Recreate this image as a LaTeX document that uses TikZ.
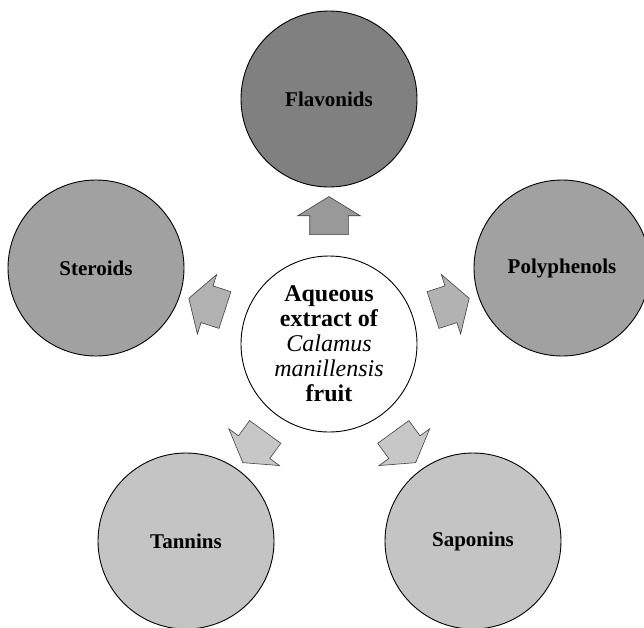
\documentclass[tikz,border=0pt]{standalone}
\usepackage{fontspec}
\setmainfont{Liberation Serif}
\usetikzlibrary{shapes.arrows,calc}

\begin{document}
\begin{tikzpicture}[x=1pt,y=-1pt,
    bubble/.style={circle,draw,line width=0.9pt,minimum size=176pt,inner sep=0pt,font=\fontsize{21}{24}\selectfont\bfseries},
    blockarrow/.style={single arrow,draw=black!75,line width=0.6pt,minimum height=38pt,
      single arrow head extend=12pt,single arrow tip angle=117,inner xsep=0pt,inner ysep=19pt}]
  \useasboundingbox (0,0) rectangle (644,627);
  \draw
    (329,344) node[bubble,fill=white,align=center,font=\fontsize{24}{25}\selectfont] (0){\textbf{Aqueous}\\\textbf{extract of}\\\textit{Calamus}\\\textit{manillensis}\\\textbf{fruit}}
    (329,99) node[bubble,fill=black!50] (1){Flavonids}
    (562,268) node[bubble,fill=black!37] (2){Polyphenols}
    (473,541) node[bubble,fill=black!23] (3){Saponins}
    (186,541) node[bubble,fill=black!23] (4){Tannins}
    (96,268) node[bubble,fill=black!37] (5){Steroids};
  \begin{scope}[every node/.style={blockarrow}]
    \node[fill=black!40,rotate=90] (a1) at ($(0)!.5!(1)$) {};
    \node[fill=black!30,rotate=18] (a2) at ($(0)!.5!(2)$) {};
    \node[fill=black!22,rotate=-54] (a3) at ($(0)!.5!(3)$) {};
    \node[fill=black!22,rotate=-126] (a4) at ($(0)!.5!(4)$) {};
    \node[fill=black!30,rotate=162] (a5) at ($(0)!.5!(5)$) {};
  \end{scope}
\end{tikzpicture}
\end{document}
